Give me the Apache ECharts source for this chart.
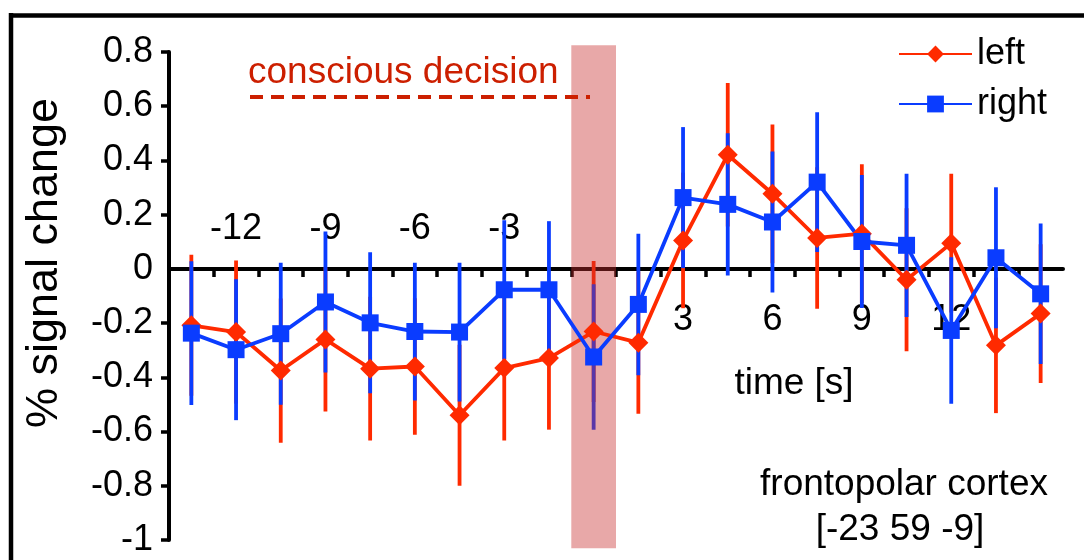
<!DOCTYPE html>
<html>
<head>
<meta charset="utf-8">
<script src="https://cdn.jsdelivr.net/npm/echarts@6/dist/echarts.min.js"></script>
<style>
  html, body { margin: 0; padding: 0; background: #ffffff; }
  #chart { width: 1084px; height: 560px; }
</style>
</head>
<body>
<div id="chart"></div>
<script>
// Sample times (s) relative to the conscious decision
const times = [-13.5, -12, -10.5, -9, -7.5, -6, -4.5, -3, -1.5, 0, 1.5, 3, 4.5, 6, 7.5, 9, 10.5, 12, 13.5, 15];

// Mean % signal change and standard error, left hand
const leftMean = [-0.208, -0.233, -0.375, -0.26, -0.368, -0.36, -0.54, -0.366, -0.329, -0.231,
                  -0.272, 0.105, 0.421, 0.277, 0.114, 0.13, -0.04, 0.095, -0.282, -0.165];
const leftSem  = [0.26, 0.264, 0.266, 0.266, 0.265, 0.252, 0.26, 0.267, 0.264, 0.26,
                  0.262, 0.25, 0.265, 0.256, 0.261, 0.256, 0.264, 0.256, 0.25, 0.256];

// Mean % signal change and standard error, right hand
const rightMean = [-0.237, -0.298, -0.239, -0.122, -0.199, -0.231, -0.233, -0.077, -0.077, -0.325,
                   -0.131, 0.263, 0.238, 0.173, 0.32, 0.101, 0.087, -0.227, 0.041, -0.092];
const rightSem  = [0.265, 0.26, 0.262, 0.26, 0.26, 0.254, 0.256, 0.256, 0.253, 0.268,
                   0.261, 0.26, 0.262, 0.26, 0.258, 0.245, 0.264, 0.27, 0.26, 0.259];

// Axis ticks and labels
const binEdges = [-12.75, -11.25, -9.75, -8.25, -6.75, -5.25, -3.75, -2.25, -0.75, 0.75,
                  2.25, 3.75, 5.25, 6.75, 8.25, 9.75, 11.25, 12.75, 14.25];
const labelsAbove = [-12, -9, -6, -3];
const labelsBelow = [3, 6, 9, 12];
const yTicks = [-1, -0.8, -0.6, -0.4, -0.2, 0.2, 0.4, 0.6, 0.8];

// Time window of the decision (s) and its vertical extent (% signal change)
const decisionWindow = [-0.75, 0.75];
const decisionSpan = [-1.03, 0.825];

const RED = '#ff2a00';
const BLUE = '#0a3cff';
const FONT = '"Liberation Sans", Arial, Helvetica, sans-serif';

function errorBars(mean, sem, color) {
  return {
    type: 'custom',
    silent: true,
    clip: false,
    data: times.map((t, i) => [t, mean[i] - sem[i], mean[i] + sem[i]]),
    encode: { x: 0, y: [1, 2] },
    renderItem(params, api) {
      const lo = api.coord([api.value(0), api.value(1)]);
      const hi = api.coord([api.value(0), api.value(2)]);
      return {
        type: 'line',
        shape: { x1: lo[0], y1: lo[1], x2: hi[0], y2: hi[1] },
        style: { stroke: color, lineWidth: 3.8 }
      };
    }
  };
}

function meanLine(name, mean, color, symbol, size) {
  return {
    name: name,
    type: 'line',
    data: times.map((t, i) => [t, mean[i]]),
    symbol: symbol,
    symbolSize: size,
    showAllSymbol: true,
    lineStyle: { color: color, width: 3.8 },
    itemStyle: { color: color },
    emphasis: { disabled: true }
  };
}

// Time labels sitting on the zero line: pre-decision ones above it, later ones below it
function timeLabels(values, dy) {
  return {
    type: 'custom',
    silent: true,
    clip: false,
    z: 1,
    data: values.map(v => [v, 0]),
    encode: { x: 0, y: 1 },
    renderItem(params, api) {
      const p = api.coord([api.value(0), api.value(1)]);
      return {
        type: 'text',
        x: p[0],
        y: p[1] + dy,
        style: { text: String(api.value(0)), fill: '#000', font: '36px ' + FONT, align: 'center', verticalAlign: 'middle' }
      };
    }
  };
}

const chart = echarts.init(document.getElementById('chart'), null, { renderer: 'canvas' });

chart.setOption({
  animation: false,
  backgroundColor: '#ffffff',
  textStyle: { fontFamily: FONT },
  grid: { left: 169, right: 21, top: 52, bottom: 20, containLabel: false, outerBoundsMode: 'none' },
  legend: {
    data: ['left', 'right'],
    orient: 'vertical',
    left: 898,
    top: 36,
    padding: 0,
    itemWidth: 73,
    itemHeight: 21,
    itemGap: 14,
    textStyle: { fontSize: 36, color: '#000', fontFamily: FONT },
    selectedMode: false
  },
  xAxis: {
    type: 'value',
    min: -14.25,
    max: 15.75,
    axisLine: { show: true, onZero: true, lineStyle: { color: '#000', width: 4 } },
    axisTick: { show: true, customValues: binEdges, length: 8, lineStyle: { color: '#000', width: 3.5 } },
    axisLabel: { show: false },
    splitLine: { show: false }
  },
  yAxis: {
    type: 'value',
    min: -1,
    max: 0.8,
    interval: 0.2,
    axisLine: { show: true, onZero: false, lineStyle: { color: '#000', width: 4 } },
    axisTick: { show: true, customValues: yTicks, length: 8, lineStyle: { color: '#000', width: 3.5 } },
    axisLabel: { fontSize: 36, color: '#000', margin: 16, fontFamily: FONT },
    splitLine: { show: false }
  },
  series: [
    timeLabels(labelsAbove, -40),
    timeLabels(labelsBelow, 51),
    errorBars(leftMean, leftSem, RED),
    errorBars(rightMean, rightSem, BLUE),
    meanLine('left', leftMean, RED, 'diamond', 20),
    meanLine('right', rightMean, BLUE, 'rect', 17),
    {
      type: 'custom',
      silent: true,
      clip: false,
      data: [[decisionWindow[0], decisionWindow[1], decisionSpan[0], decisionSpan[1]]],
      encode: { x: [0, 1], y: [2, 3] },
      renderItem(params, api) {
        const a = api.coord([api.value(0), api.value(3)]);
        const b = api.coord([api.value(1), api.value(2)]);
        return {
          type: 'rect',
          shape: { x: a[0], y: a[1], width: b[0] - a[0], height: b[1] - a[1] },
          style: { fill: 'rgba(200, 48, 48, 0.42)' }
        };
      }
    }
  ],
  graphic: [
    // frame
    { type: 'line', z: 100, shape: { x1: 9, y1: 15.5, x2: 1084, y2: 15.5 }, style: { stroke: '#000', lineWidth: 4.5 } },
    { type: 'line', z: 100, shape: { x1: 11, y1: 13, x2: 11, y2: 560 }, style: { stroke: '#000', lineWidth: 4.5 } },
    // decision annotation
    { type: 'text', z: 100, x: 248, y: 73, style: { text: 'conscious decision', fill: '#cc1f00', font: '37px ' + FONT, align: 'left', verticalAlign: 'middle' } },
    { type: 'line', z: 100, shape: { x1: 250, y1: 97, x2: 590, y2: 97 }, style: { stroke: '#cc1f00', lineWidth: 4, lineDash: [13, 8] } },
    // axis titles
    { type: 'text', z: 100, x: 45, y: 263, rotation: Math.PI / 2, style: { text: '% signal change', fill: '#000', font: '45px ' + FONT, align: 'center', verticalAlign: 'middle' } },
    { type: 'text', z: 100, x: 794, y: 384, style: { text: 'time [s]', fill: '#000', font: '37px ' + FONT, align: 'center', verticalAlign: 'middle' } },
    // region label
    { type: 'text', z: 100, x: 904, y: 485, style: { text: 'frontopolar cortex', fill: '#000', font: '37px ' + FONT, align: 'center', verticalAlign: 'middle' } },
    { type: 'text', z: 100, x: 900, y: 530, style: { text: '[-23 59 -9]', fill: '#000', font: '37px ' + FONT, align: 'center', verticalAlign: 'middle' } }
  ]
});
</script>
</body>
</html>
